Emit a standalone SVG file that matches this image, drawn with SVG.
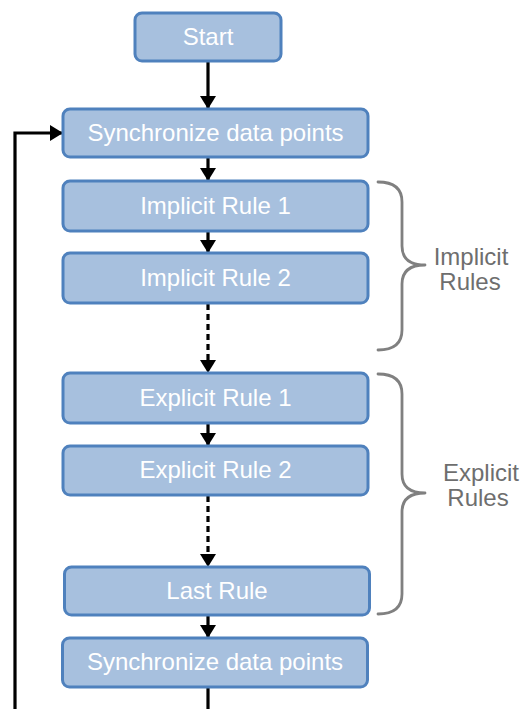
<svg xmlns="http://www.w3.org/2000/svg" width="524" height="709" viewBox="0 0 524 709">
  <style>
    .box { fill: #a7c0de; stroke: #4f81bd; stroke-width: 3; }
    .lbl { font-family: "Liberation Sans", Arial, sans-serif; font-size: 24px; fill: #ffffff; text-anchor: middle; }
    .side { font-family: "Liberation Sans", Arial, sans-serif; font-size: 24px; fill: #6e6e6e; text-anchor: middle; }
    .brace { fill: none; stroke: #808080; stroke-width: 2.8; stroke-linecap: round; stroke-linejoin: round; }
    .conn { fill: none; stroke: #000000; stroke-width: 3.2; }
    .dash { stroke-dasharray: 6 4; }
  </style>
  <defs>
    <marker id="arrow" viewBox="0 0 13 16" refX="13" refY="8" markerWidth="13" markerHeight="16" markerUnits="userSpaceOnUse" orient="auto">
      <path d="M0,0 L13,8 L0,16 Z" fill="#000000"/>
    </marker>
  </defs>

  <!-- connectors -->
  <g id="connectors">
    <line class="conn" x1="208" y1="61" x2="208" y2="109" marker-end="url(#arrow)"/>
    <line class="conn" x1="208" y1="157" x2="208" y2="181" marker-end="url(#arrow)"/>
    <line class="conn" x1="208" y1="231" x2="208" y2="253" marker-end="url(#arrow)"/>
    <line class="conn dash" x1="208" y1="304" x2="208" y2="373" marker-end="url(#arrow)"/>
    <line class="conn" x1="208" y1="423" x2="208" y2="446" marker-end="url(#arrow)"/>
    <line class="conn dash" x1="208" y1="496" x2="208" y2="567" marker-end="url(#arrow)"/>
    <line class="conn" x1="208" y1="615" x2="208" y2="638" marker-end="url(#arrow)"/>
    <line class="conn" x1="208" y1="687" x2="208" y2="712"/>
    <polyline class="conn" points="15,712 15,133 63,133" marker-end="url(#arrow)"/>
  </g>

  <!-- process steps -->
  <g id="start">
    <rect class="box" x="135" y="13" width="146" height="48" rx="7"/>
    <text class="lbl" x="208" y="45">Start</text>
  </g>
  <g id="sync-top">
    <rect class="box" x="63" y="109" width="305" height="48" rx="7"/>
    <text class="lbl" x="215.5" y="141">Synchronize data points</text>
  </g>
  <g id="implicit-1">
    <rect class="box" x="63" y="181" width="305" height="50" rx="7"/>
    <text class="lbl" x="215.5" y="214">Implicit Rule 1</text>
  </g>
  <g id="implicit-2">
    <rect class="box" x="63" y="253" width="305" height="50" rx="7"/>
    <text class="lbl" x="215.5" y="286">Implicit Rule 2</text>
  </g>
  <g id="explicit-1">
    <rect class="box" x="63" y="373" width="305" height="50" rx="7"/>
    <text class="lbl" x="215.5" y="406">Explicit Rule 1</text>
  </g>
  <g id="explicit-2">
    <rect class="box" x="63" y="446" width="305" height="49" rx="7"/>
    <text class="lbl" x="215.5" y="478">Explicit Rule 2</text>
  </g>
  <g id="last-rule">
    <rect class="box" x="64.5" y="567" width="305" height="48" rx="7"/>
    <text class="lbl" x="217" y="599">Last Rule</text>
  </g>
  <g id="sync-bottom">
    <rect class="box" x="62.5" y="638" width="305" height="49" rx="7"/>
    <text class="lbl" x="215" y="670">Synchronize data points</text>
  </g>

  <!-- group braces -->
  <g id="implicit-group">
    <path class="brace" d="M378,182 Q402,182 402,202 L402,246 Q402,265 425,265 Q402,265 402,284 L402,330 Q402,350 378,350"/>
    <text class="side" x="471" y="265">Implicit</text>
    <text class="side" x="470" y="290">Rules</text>
  </g>
  <g id="explicit-group">
    <path class="brace" d="M378,374 Q402,374 402,394 L402,474 Q402,493 425,493 Q402,493 402,512 L402,594 Q402,614 378,614"/>
    <text class="side" x="481" y="481">Explicit</text>
    <text class="side" x="478" y="506">Rules</text>
  </g>
</svg>
